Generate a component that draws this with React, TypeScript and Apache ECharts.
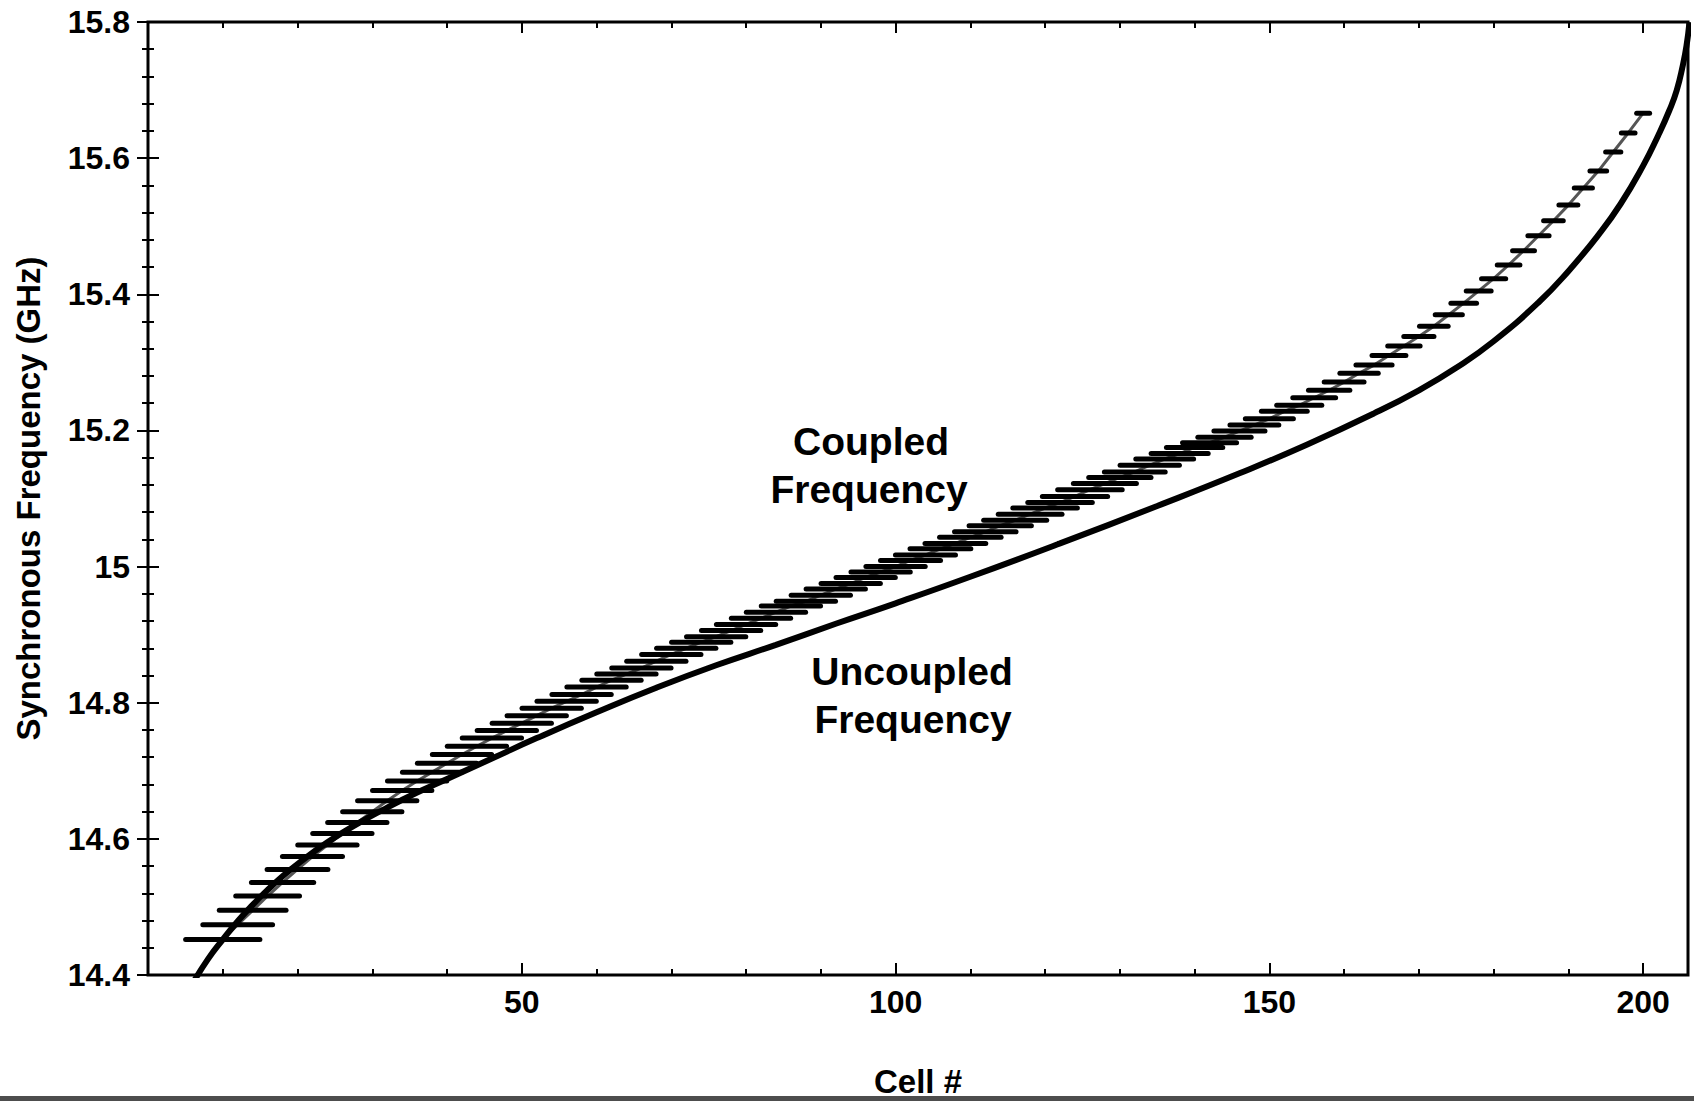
import React, { useEffect, useRef } from "react";
import * as echarts from "echarts";

// Coupled frequency: one horizontal bar per even cell, with its length in cells
const cells = [
  10, 12, 14, 16, 18, 20, 22, 24, 26, 28,
  30, 32, 34, 36, 38, 40, 42, 44, 46, 48,
  50, 52, 54, 56, 58, 60, 62, 64, 66, 68,
  70, 72, 74, 76, 78, 80, 82, 84, 86, 88,
  90, 92, 94, 96, 98, 100, 102, 104, 106, 108,
  110, 112, 114, 116, 118, 120, 122, 124, 126, 128,
  130, 132, 134, 136, 138, 140, 142, 144, 146, 148,
  150, 152, 154, 156, 158, 160, 162, 164, 166, 168,
  170, 172, 174, 176, 178, 180, 182, 184, 186, 188,
  190, 192, 194, 196, 198, 200,
];

const coupledFreq = [
  14.452, 14.474, 14.495, 14.516, 14.536, 14.555, 14.574, 14.591, 14.608, 14.624,
  14.640, 14.656, 14.671, 14.685, 14.698, 14.711, 14.724, 14.736, 14.748, 14.759,
  14.770, 14.781, 14.792, 14.802, 14.812, 14.823, 14.833, 14.842, 14.851, 14.861,
  14.871, 14.880, 14.889, 14.897, 14.906, 14.915, 14.924, 14.933, 14.942, 14.949,
  14.958, 14.967, 14.975, 14.984, 14.992, 15.000, 15.009, 15.017, 15.026, 15.034,
  15.043, 15.051, 15.060, 15.068, 15.077, 15.086, 15.094, 15.103, 15.113, 15.122,
  15.131, 15.139, 15.149, 15.158, 15.166, 15.175, 15.182, 15.190, 15.199, 15.208,
  15.217, 15.228, 15.237, 15.248, 15.259, 15.271, 15.284, 15.296, 15.310, 15.324,
  15.338, 15.353, 15.370, 15.387, 15.405, 15.423, 15.443, 15.464, 15.486, 15.508,
  15.531, 15.556, 15.581, 15.609, 15.637, 15.666,
];

const coupledSpan = [
  10.6, 10.0, 9.6, 9.2, 9.0, 8.8, 8.7, 8.6, 8.6, 8.6,
  8.6, 8.6, 8.6, 8.6, 8.6, 8.6, 8.6, 8.6, 8.6, 8.6,
  8.6, 8.6, 8.6, 8.6, 8.6, 8.6, 8.6, 8.6, 8.6, 8.6,
  8.6, 8.6, 8.6, 8.6, 8.6, 8.6, 8.6, 8.6, 8.6, 8.6,
  8.6, 8.6, 8.6, 8.6, 8.6, 8.6, 8.7, 8.7, 8.8, 8.8,
  8.9, 8.9, 9.0, 9.1, 9.2, 9.3, 9.3, 9.4, 9.3, 9.1,
  9.0, 8.8, 8.6, 8.4, 8.3, 8.2, 7.9, 7.8, 7.5, 7.2,
  7.1, 6.8, 6.7, 6.4, 6.2, 6.0, 5.8, 5.5, 5.2, 5.0,
  4.7, 4.5, 4.3, 4.1, 4.0, 3.9, 3.7, 3.6, 3.5, 3.3,
  3.2, 3.1, 2.9, 2.7, 2.5, 2.4,
];

// Uncoupled frequency curve
const uncoupledCells = [
  6, 8, 10, 12, 14, 16, 18, 20, 24, 28,
  32, 36, 40, 46, 52, 60, 68, 76, 84, 92,
  100, 110, 122, 135, 146, 155, 164, 170, 175, 180,
  186, 190, 194, 197, 200, 202, 203.5, 204.5, 205.3, 205.8,
  206.2,
];
const uncoupledFreq = [
  14.388, 14.423, 14.452, 14.479, 14.503, 14.525, 14.545, 14.563, 14.595, 14.622,
  14.646, 14.668, 14.688, 14.718, 14.748, 14.786, 14.822, 14.855, 14.885, 14.916,
  14.946, 14.985, 15.034, 15.089, 15.137, 15.179, 15.225, 15.259, 15.292, 15.331,
  15.388, 15.434, 15.487, 15.533, 15.589, 15.633, 15.670, 15.700, 15.736, 15.765,
  15.800,
];

const xTickLabels = [50, 100, 150, 200];

const FONT = '"Liberation Sans", Arial, Helvetica, sans-serif';
const BLACK = "#000";

function noteText(text: string, x: number, y: number) {
  return {
    type: "text",
    x,
    y,
    style: {
      text,
      fontFamily: FONT,
      fontWeight: "bold",
      fontSize: 39,
      fill: BLACK,
      textAlign: "center",
      textVerticalAlign: "middle",
      align: "center",
      verticalAlign: "middle",
    },
  };
}

export default function App() {
  const ref = useRef<HTMLDivElement>(null);

  useEffect(() => {
    if (!ref.current) return;
    const chart = echarts.init(ref.current, null, { renderer: "svg" });

    const coupled = cells.map((c, i) => [c, coupledFreq[i], coupledSpan[i]]);
    const coupledCentres = cells.map((c, i) => [c, coupledFreq[i]]);
    const uncoupled = uncoupledCells.map((c, i) => [c, uncoupledFreq[i]]);

    const tickLine = { color: BLACK, width: 2 };
    const labelFont = {
      fontFamily: FONT,
      fontWeight: "bold" as const,
      fontSize: 32,
      color: BLACK,
    };

    const baseX = {
      type: "value" as const,
      min: 0,
      max: 206,
      axisLine: { show: false },
      splitLine: { show: false },
    };
    const baseY = {
      type: "value" as const,
      min: 14.4,
      max: 15.8,
      interval: 0.2,
      axisLine: { show: false },
      splitLine: { show: false },
      minorTick: { show: true, splitNumber: 5, length: 6, lineStyle: tickLine },
      minorSplitLine: { show: false },
    };

    const capRadius = 2.5;

    chart.setOption({
      animation: false,
      backgroundColor: "#fff",
      grid: {
        left: 148,
        right: 6,
        top: 22,
        bottom: 126,
        containLabel: false,
        outerBoundsMode: "none",
        show: true,
        borderColor: BLACK,
        borderWidth: 3,
        backgroundColor: "transparent",
      },
      xAxis: [
        {
          ...baseX,
          position: "bottom",
          interval: 10,
          axisTick: { inside: true, length: 6, lineStyle: tickLine },
          axisLabel: {
            ...labelFont,
            margin: 11,
            formatter: (v: number) => (xTickLabels.includes(v) ? String(v) : ""),
          },
          name: "Cell #",
          nameLocation: "middle",
          nameGap: 90,
          nameTextStyle: { ...labelFont, fontSize: 33 },
        },
        {
          ...baseX,
          position: "bottom",
          interval: 50,
          axisTick: { inside: true, length: 12, lineStyle: tickLine },
          axisLabel: { show: false },
        },
        {
          ...baseX,
          position: "top",
          interval: 10,
          axisTick: { inside: true, length: 6, lineStyle: tickLine },
          axisLabel: { show: false },
        },
        {
          ...baseX,
          position: "top",
          interval: 50,
          axisTick: { inside: true, length: 11, lineStyle: tickLine },
          axisLabel: { show: false },
        },
      ],
      yAxis: [
        {
          ...baseY,
          position: "left",
          axisTick: { inside: true, length: 11, lineStyle: tickLine },
          axisLabel: {
            ...labelFont,
            margin: 18,
            formatter: (v: number) => String(parseFloat(v.toFixed(1))),
          },
          name: "Synchronous Frequency (GHz)",
          nameLocation: "middle",
          nameRotate: 90,
          nameGap: 103,
          nameTextStyle: { ...labelFont, fontSize: 33 },
        },
        {
          ...baseY,
          position: "right",
          axisTick: { inside: true, length: 11, lineStyle: tickLine },
          axisLabel: { show: false },
        },
      ],
      graphic: [
        noteText("Coupled", 871, 441),
        noteText("Frequency", 869, 489),
        noteText("Uncoupled", 912, 671),
        noteText("Frequency", 913, 719),
        {
          type: "rect",
          shape: { x: 0, y: 1096, width: 1694, height: 5 },
          style: { fill: "#4d4d4d" },
          silent: true,
        },
      ],
      series: [
        {
          name: "Uncoupled Frequency",
          type: "line",
          data: uncoupled,
          smooth: 0.5,
          showSymbol: false,
          symbol: "none",
          clip: true,
          lineStyle: { color: BLACK, width: 6 },
          z: 3,
        },
        {
          name: "Coupled Frequency trace",
          type: "line",
          data: coupledCentres,
          showSymbol: false,
          symbol: "none",
          lineStyle: { color: "#555", width: 3 },
          z: 2,
        },
        {
          name: "Coupled Frequency",
          type: "custom",
          data: coupled,
          encode: { x: 0, y: 1 },
          z: 4,
          renderItem: (_params: any, api: any) => {
            const x = api.value(0);
            const y = api.value(1);
            const half = api.value(2) / 2;
            const p0 = api.coord([x - half, y]);
            const p1 = api.coord([x + half, y]);
            return {
              type: "line",
              shape: {
                x1: p0[0] + capRadius,
                y1: p0[1],
                x2: p1[0] - capRadius,
                y2: p1[1],
              },
              style: { stroke: BLACK, lineWidth: 5, lineCap: "round" },
            };
          },
        },
      ],
    });

    return () => chart.dispose();
  }, []);

  return (
    <div
      ref={ref}
      style={{ position: "fixed", left: 0, top: 0, width: 1694, height: 1101, background: "#fff" }}
    />
  );
}
